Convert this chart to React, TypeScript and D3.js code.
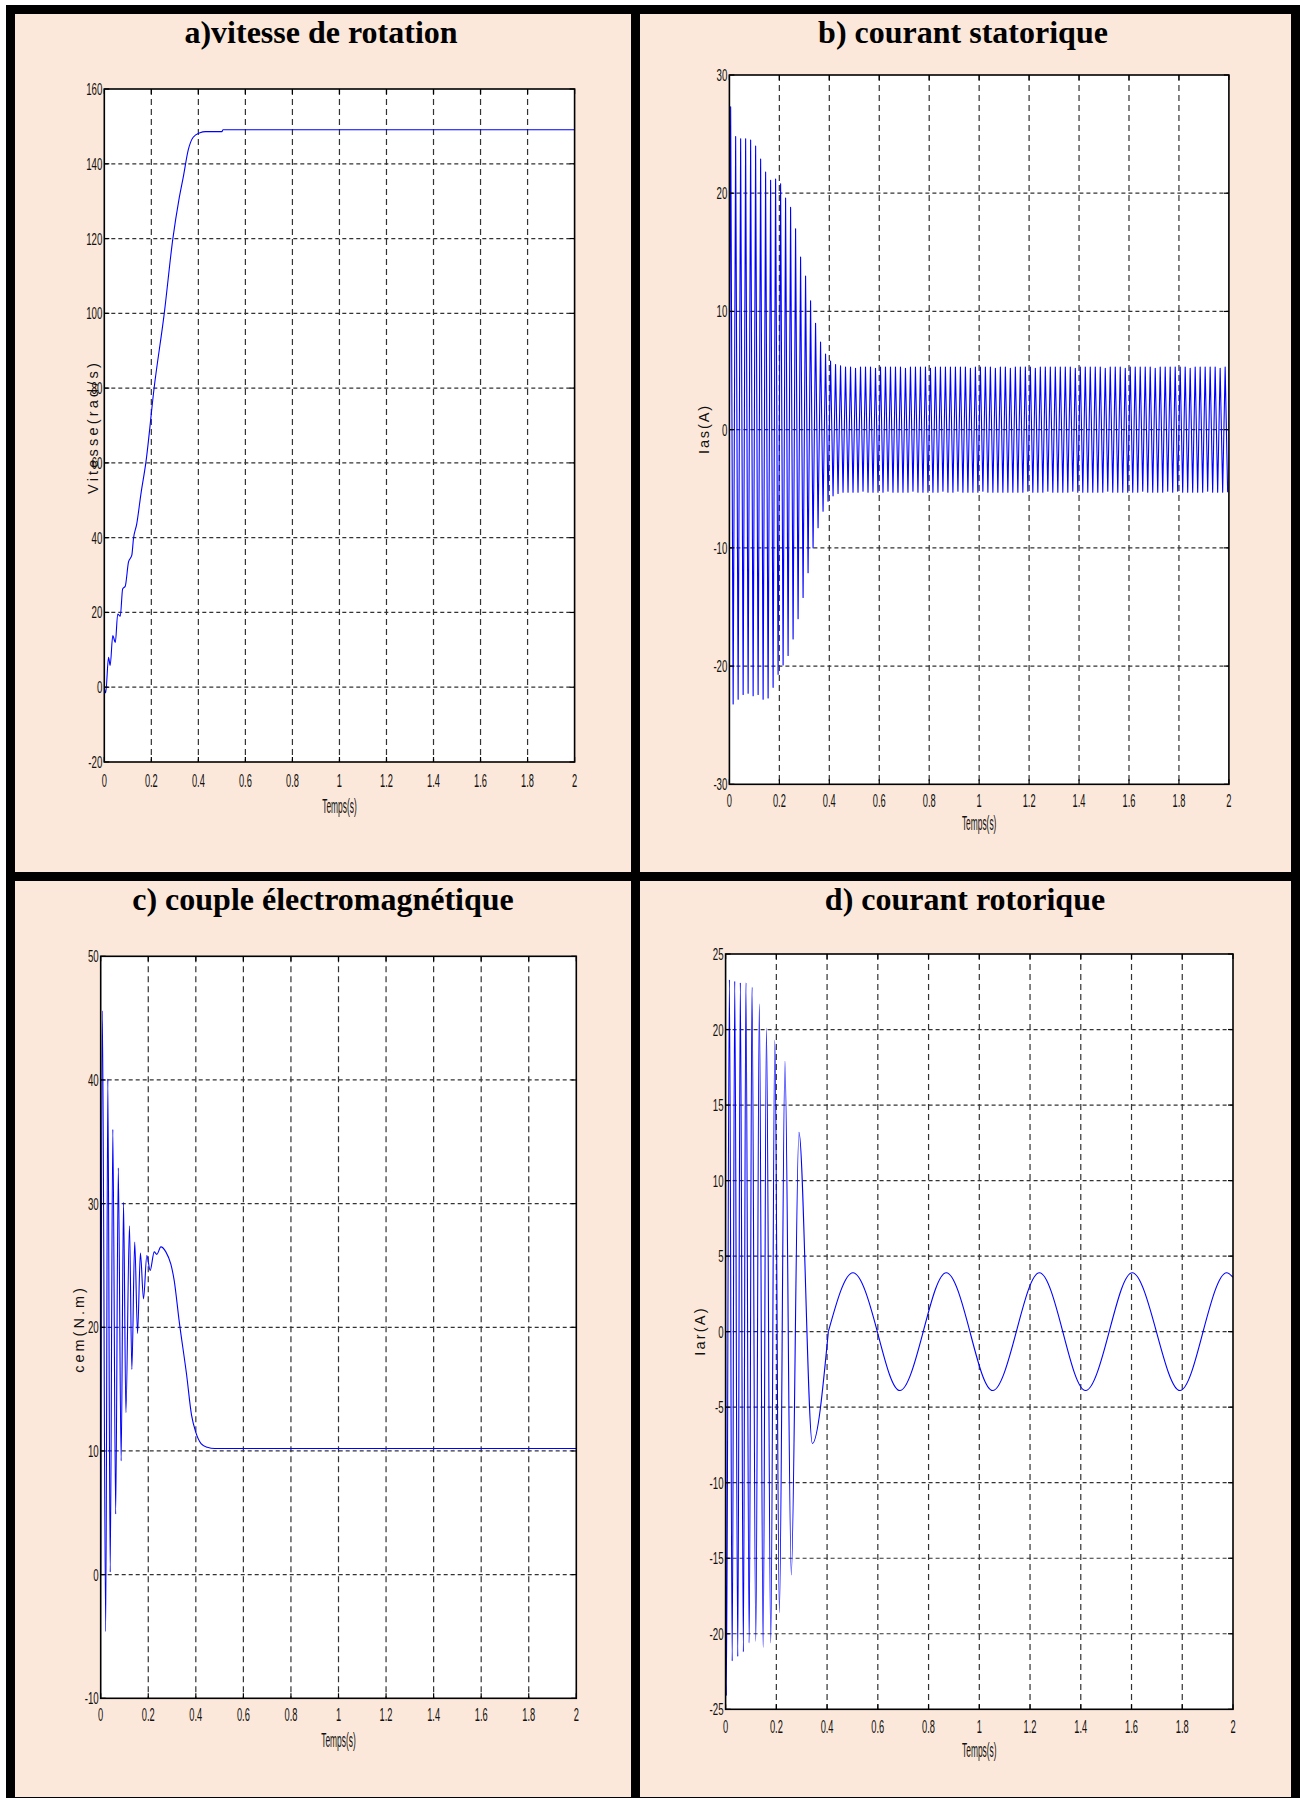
import React from "react"
import * as d3 from "d3"

const W = 1300
const H = 1798

const timeTicks = [0, 0.2, 0.4, 0.6, 0.8, 1, 1.2, 1.4, 1.6, 1.8, 2]

// a) vitesse de rotation (rad/s)
const speedTicks = [-20, 0, 20, 40, 60, 80, 100, 120, 140, 160]
const speedTime = [0, 0.006, 0.018, 0.025, 0.036, 0.047, 0.057, 0.068, 0.078, 0.089, 0.103, 0.117, 0.124, 0.138,
  0.156, 0.177, 0.212, 0.255, 0.292, 0.317, 0.336, 0.357, 0.378, 0.407, 0.43, 0.5, 0.505, 2]
const speedValue = [0, -1.5, 8, 5.8, 13.8, 12, 19.6, 19, 26.3, 27, 33.5, 35.3, 39.7, 43.7,
  51.8, 60.2, 80.1, 100, 120.2, 130.3, 136.5, 143.7, 147.1, 148.3, 148.6, 148.6, 149.1, 149.1]

// b) courant statorique, one max and one min per 20 ms period (50 Hz)
const iasTicks = [-30, -20, -10, 0, 10, 20, 30]
const iasFirstPeak = 0.005
const iasHalfPeriod = 0.01
const iasPosPeaks = [
  27.3, 24.8, 24.6, 24.6, 24.5, 24.0, 22.9, 21.8, 21.1, 21.2,
  20.8, 19.6, 18.8, 17.0, 14.6, 13.0, 10.9, 9.0, 7.4, 6.4,
  5.8, 5.5, 5.4,
  5.3, 5.3, 5.2, 5.3, 5.3, 5.3, 5.2, 5.3, 5.3, 5.3, 5.3,
  5.3, 5.2, 5.3, 5.3, 5.3, 5.3, 5.2, 5.3, 5.3, 5.3, 5.3,
  5.3, 5.3, 5.3, 5.2, 5.3, 5.3, 5.3, 5.3, 5.2, 5.3, 5.3,
  5.2, 5.3, 5.3, 5.3, 5.3, 5.2, 5.3, 5.3, 5.3, 5.3, 5.3,
  5.3, 5.3, 5.2, 5.3, 5.3, 5.3, 5.3, 5.3, 5.2, 5.3, 5.3,
  5.3, 5.2, 5.3, 5.3, 5.3, 5.3, 5.3, 5.2, 5.3, 5.3, 5.3,
  5.3, 5.3, 5.3, 5.2, 5.3, 5.3, 5.3, 5.3, 5.3, 5.2, 5.3,
]
const iasNegPeaks = [
  -23.2, -22.8, -22.4, -22.3, -22.5, -22.4, -22.8, -22.7, -21.8, -20.7,
  -19.9, -19.1, -17.7, -16.0, -14.2, -12.1, -10.0, -8.3, -6.9, -6.05,
  -5.6, -5.4, -5.3,
  -5.3, -5.3, -5.3, -5.2, -5.3, -5.3, -5.3, -5.3, -5.2, -5.3, -5.3,
  -5.3, -5.3, -5.2, -5.3, -5.3, -5.3, -5.3, -5.3, -5.2, -5.3, -5.3,
  -5.2, -5.3, -5.3, -5.3, -5.3, -5.2, -5.3, -5.3, -5.3, -5.3, -5.3,
  -5.3, -5.3, -5.3, -5.2, -5.3, -5.3, -5.3, -5.2, -5.3, -5.3, -5.3,
  -5.3, -5.2, -5.3, -5.3, -5.3, -5.3, -5.3, -5.3, -5.2, -5.3, -5.3,
  -5.3, -5.3, -5.3, -5.3, -5.2, -5.3, -5.3, -5.3, -5.3, -5.2, -5.3,
  -5.2, -5.3, -5.3, -5.3, -5.3, -5.3, -5.2, -5.3, -5.3, -5.3, -5.3,
]

// c) couple électromagnétique (N.m)
const cemTicks = [-10, 0, 10, 20, 30, 40, 50]
const cemTime = [0, 0.007, 0.021, 0.03, 0.04, 0.051, 0.063, 0.074, 0.086, 0.096, 0.106, 0.121, 0.131, 0.143,
  0.155, 0.167, 0.18, 0.194, 0.208, 0.225, 0.236, 0.253, 0.274, 0.295, 0.309, 0.33, 0.361, 0.382, 0.4,
  0.422, 0.448, 0.48, 2]
const cemValue = [0, 45.6, -4.6, 40.1, 0.2, 36, 4.9, 32.9, 9.2, 30.1, 13.1, 28.2, 16.6, 26.9,
  19.5, 26, 22.3, 25.8, 24.6, 26.1, 25.9, 26.5, 26.1, 25.1, 23.8, 20.5, 16.2, 12.9, 11.5,
  10.6, 10.3, 10.2, 10.2]

// d) courant rotorique (A)
const iarTicks = [-25, -20, -15, -10, -5, 0, 5, 10, 15, 20, 25]
const iarTime = [0, 0.003, 0.015, 0.026, 0.036, 0.048, 0.058, 0.07, 0.08, 0.093, 0.104, 0.119, 0.133, 0.148,
  0.161, 0.178, 0.194, 0.212, 0.234, 0.259, 0.289, 0.342, 0.405, 0.502, 0.598, 0.687, 0.779, 0.87,
  0.963, 1.053, 1.146, 1.237, 1.329, 1.419, 1.512, 1.603, 1.698, 1.791, 1.882, 1.975, 2]
const iarValue = [0, -24.1, 23.3, -21.8, 23.2, -21.5, 23.1, -21.2, 23.1, -20.6, 22.8, -20.5, 21.7, -20.9,
  20.1, -20.6, 19.3, -18.6, 17.9, -16.1, 13.2, -7.4, 0, 3.9, 0, -3.9, 0, 3.9,
  0, -3.9, 0, 3.9, 0, -3.9, 0, 3.9, 0, -3.9, 0, 3.9, 3.6]

const zip = (t, v) => t.map((d, i) => [d, v[i]])

const iasPoints = [[0, 0]]
iasPosPeaks.forEach((p, k) => {
  iasPoints.push([iasFirstPeak + 2 * k * iasHalfPeriod, p])
  iasPoints.push([iasFirstPeak + (2 * k + 1) * iasHalfPeriod, iasNegPeaks[k]])
})

const PEACH = "#FCE8DA"
const BLUE = "#0000FF"

const panels = [
  {
    id: "a", title: "a)vitesse de rotation", titleX: 321, titleY: 43,
    left: 104.3, right: 574.6, top: 89, bottom: 762,
    ticks: speedTicks, points: zip(speedTime, speedValue),
    segments: [{ from: 0, to: 2, curve: d3.curveMonotoneX }],
    ylabel: "Vitesse(rad/s)", ylabelX: 97.5, ylabelY: 427, spacing: 3.2,
    tickGap: 24.7, xlabelGap: 51,
  },
  {
    id: "b", title: "b) courant statorique", titleX: 963, titleY: 43,
    left: 729.4, right: 1228.9, top: 75, bottom: 784.3,
    ticks: iasTicks, points: iasPoints,
    segments: [{ from: 0, to: 2, curve: d3.curveLinear }],
    ylabel: "Ias(A)", ylabelX: 708.7, ylabelY: 429, spacing: 1.9,
    tickGap: 22.5, xlabelGap: 45.5,
  },
  {
    id: "c", title: "c) couple électromagnétique", titleX: 323, titleY: 910,
    left: 100.7, right: 576.3, top: 956.3, bottom: 1698.3,
    ticks: cemTicks, points: zip(cemTime, cemValue),
    segments: [{ from: 0, to: 2, curve: d3.curveMonotoneX }],
    ylabel: "cem(N.m)", ylabelX: 84, ylabelY: 1329, spacing: 3,
    tickGap: 22.5, xlabelGap: 48.4,
  },
  {
    id: "d", title: "d) courant rotorique", titleX: 965, titleY: 910,
    left: 725.6, right: 1233, top: 954, bottom: 1709.3,
    ticks: iarTicks, points: zip(iarTime, iarValue),
    // fast transient, then the slow slip-frequency wave between its zero crossings
    segments: [
      { from: 0, to: 0.405, curve: d3.curveMonotoneX },
      { from: 0.405, to: 1.882, curve: d3.curveNatural },
      { from: 1.882, to: 2, curve: d3.curveMonotoneX },
    ],
    ylabel: "Iar(A)", ylabelX: 705, ylabelY: 1331, spacing: 2.2,
    tickGap: 23.4, xlabelGap: 47.4,
  },
]

const sans = "'Liberation Sans', Arial, Helvetica, sans-serif"

function Panel({ p }) {
  const x = d3.scaleLinear().domain([0, 2]).range([p.left, p.right])
  const y = d3.scaleLinear().domain(d3.extent(p.ticks)).range([p.bottom, p.top])
  const clipId = "clip-" + p.id
  const tickLen = 5
  return (
    <g>
      <text x={p.titleX} y={p.titleY} textAnchor="middle"
        style={{ fontFamily: "'Liberation Serif', 'Times New Roman', serif", fontWeight: "bold", fontSize: 32 }}>
        {p.title}
      </text>
      <rect x={p.left} y={p.top} width={p.right - p.left} height={p.bottom - p.top} fill="#fff" />
      <clipPath id={clipId}>
        <rect x={p.left} y={p.top} width={p.right - p.left} height={p.bottom - p.top} />
      </clipPath>
      {timeTicks.slice(1, -1).map(t => (
        <line key={"gx" + t} x1={x(t)} x2={x(t)} y1={p.top} y2={p.bottom}
          stroke="#333" strokeWidth={1.2} strokeDasharray="6 4" />
      ))}
      {p.ticks.slice(1, -1).map(v => (
        <line key={"gy" + v} x1={p.left} x2={p.right} y1={y(v)} y2={y(v)}
          stroke="#333" strokeWidth={1.2} strokeDasharray="4 3" />
      ))}
      {p.segments.map((s, i) => {
        const line = d3.line().x(d => x(d[0])).y(d => y(d[1])).curve(s.curve)
        const pts = p.points.filter(d => d[0] >= s.from && d[0] <= s.to)
        return (
          <path key={"s" + i} d={line(pts)} fill="none" stroke={BLUE} strokeWidth={1.1}
            clipPath={`url(#${clipId})`} strokeLinejoin="round" />
        )
      })}
      <rect x={p.left} y={p.top} width={p.right - p.left} height={p.bottom - p.top}
        fill="none" stroke="#000" strokeWidth={1.6} />
      {timeTicks.map(t => (
        <g key={"tx" + t}>
          <line x1={x(t)} x2={x(t)} y1={p.bottom} y2={p.bottom - tickLen} stroke="#000" strokeWidth={1.2} />
          <line x1={x(t)} x2={x(t)} y1={p.top} y2={p.top + tickLen} stroke="#000" strokeWidth={1.2} />
          <text transform={`translate(${x(t)},${p.bottom + p.tickGap}) scale(0.5,1)`} textAnchor="middle"
            style={{ fontFamily: sans, fontSize: 18.6 }} fill="#111">
            {String(t)}
          </text>
        </g>
      ))}
      {p.ticks.map(v => (
        <g key={"ty" + v}>
          <line x1={p.left} x2={p.left + tickLen} y1={y(v)} y2={y(v)} stroke="#000" strokeWidth={1.2} />
          <line x1={p.right} x2={p.right - tickLen} y1={y(v)} y2={y(v)} stroke="#000" strokeWidth={1.2} />
          <text transform={`translate(${p.left - 2},${y(v) + 6}) scale(0.57,1)`} textAnchor="end"
            style={{ fontFamily: sans, fontSize: 17 }} fill="#111">
            {String(v)}
          </text>
        </g>
      ))}
      <text transform={`translate(${(p.left + p.right) / 2},${p.bottom + p.xlabelGap}) scale(0.41,1)`}
        textAnchor="middle" style={{ fontFamily: sans, fontSize: 20.5 }} fill="#111">
        Temps(s)
      </text>
      <text transform={`translate(${p.ylabelX},${p.ylabelY}) rotate(-90)`} textAnchor="middle"
        style={{ fontFamily: sans, fontSize: 14.5, letterSpacing: p.spacing }} fill="#111">
        {p.ylabel}
      </text>
    </g>
  )
}

export default function App() {
  return (
    <svg width={W} height={H} viewBox={`0 0 ${W} ${H}`}
      style={{ position: "absolute", left: 0, top: 0, background: "#fff" }}>
      <rect x={0} y={0} width={W} height={H} fill="#fff" />
      <rect x={6} y={5} width={W - 6} height={H - 5} fill="#000" />
      <rect x={15} y={14} width={616} height={858} fill={PEACH} />
      <rect x={640} y={14} width={651} height={858} fill={PEACH} />
      <rect x={15} y={881} width={616} height={916} fill={PEACH} />
      <rect x={640} y={881} width={651} height={916} fill={PEACH} />
      {panels.map(p => <Panel key={p.id} p={p} />)}
    </svg>
  )
}
